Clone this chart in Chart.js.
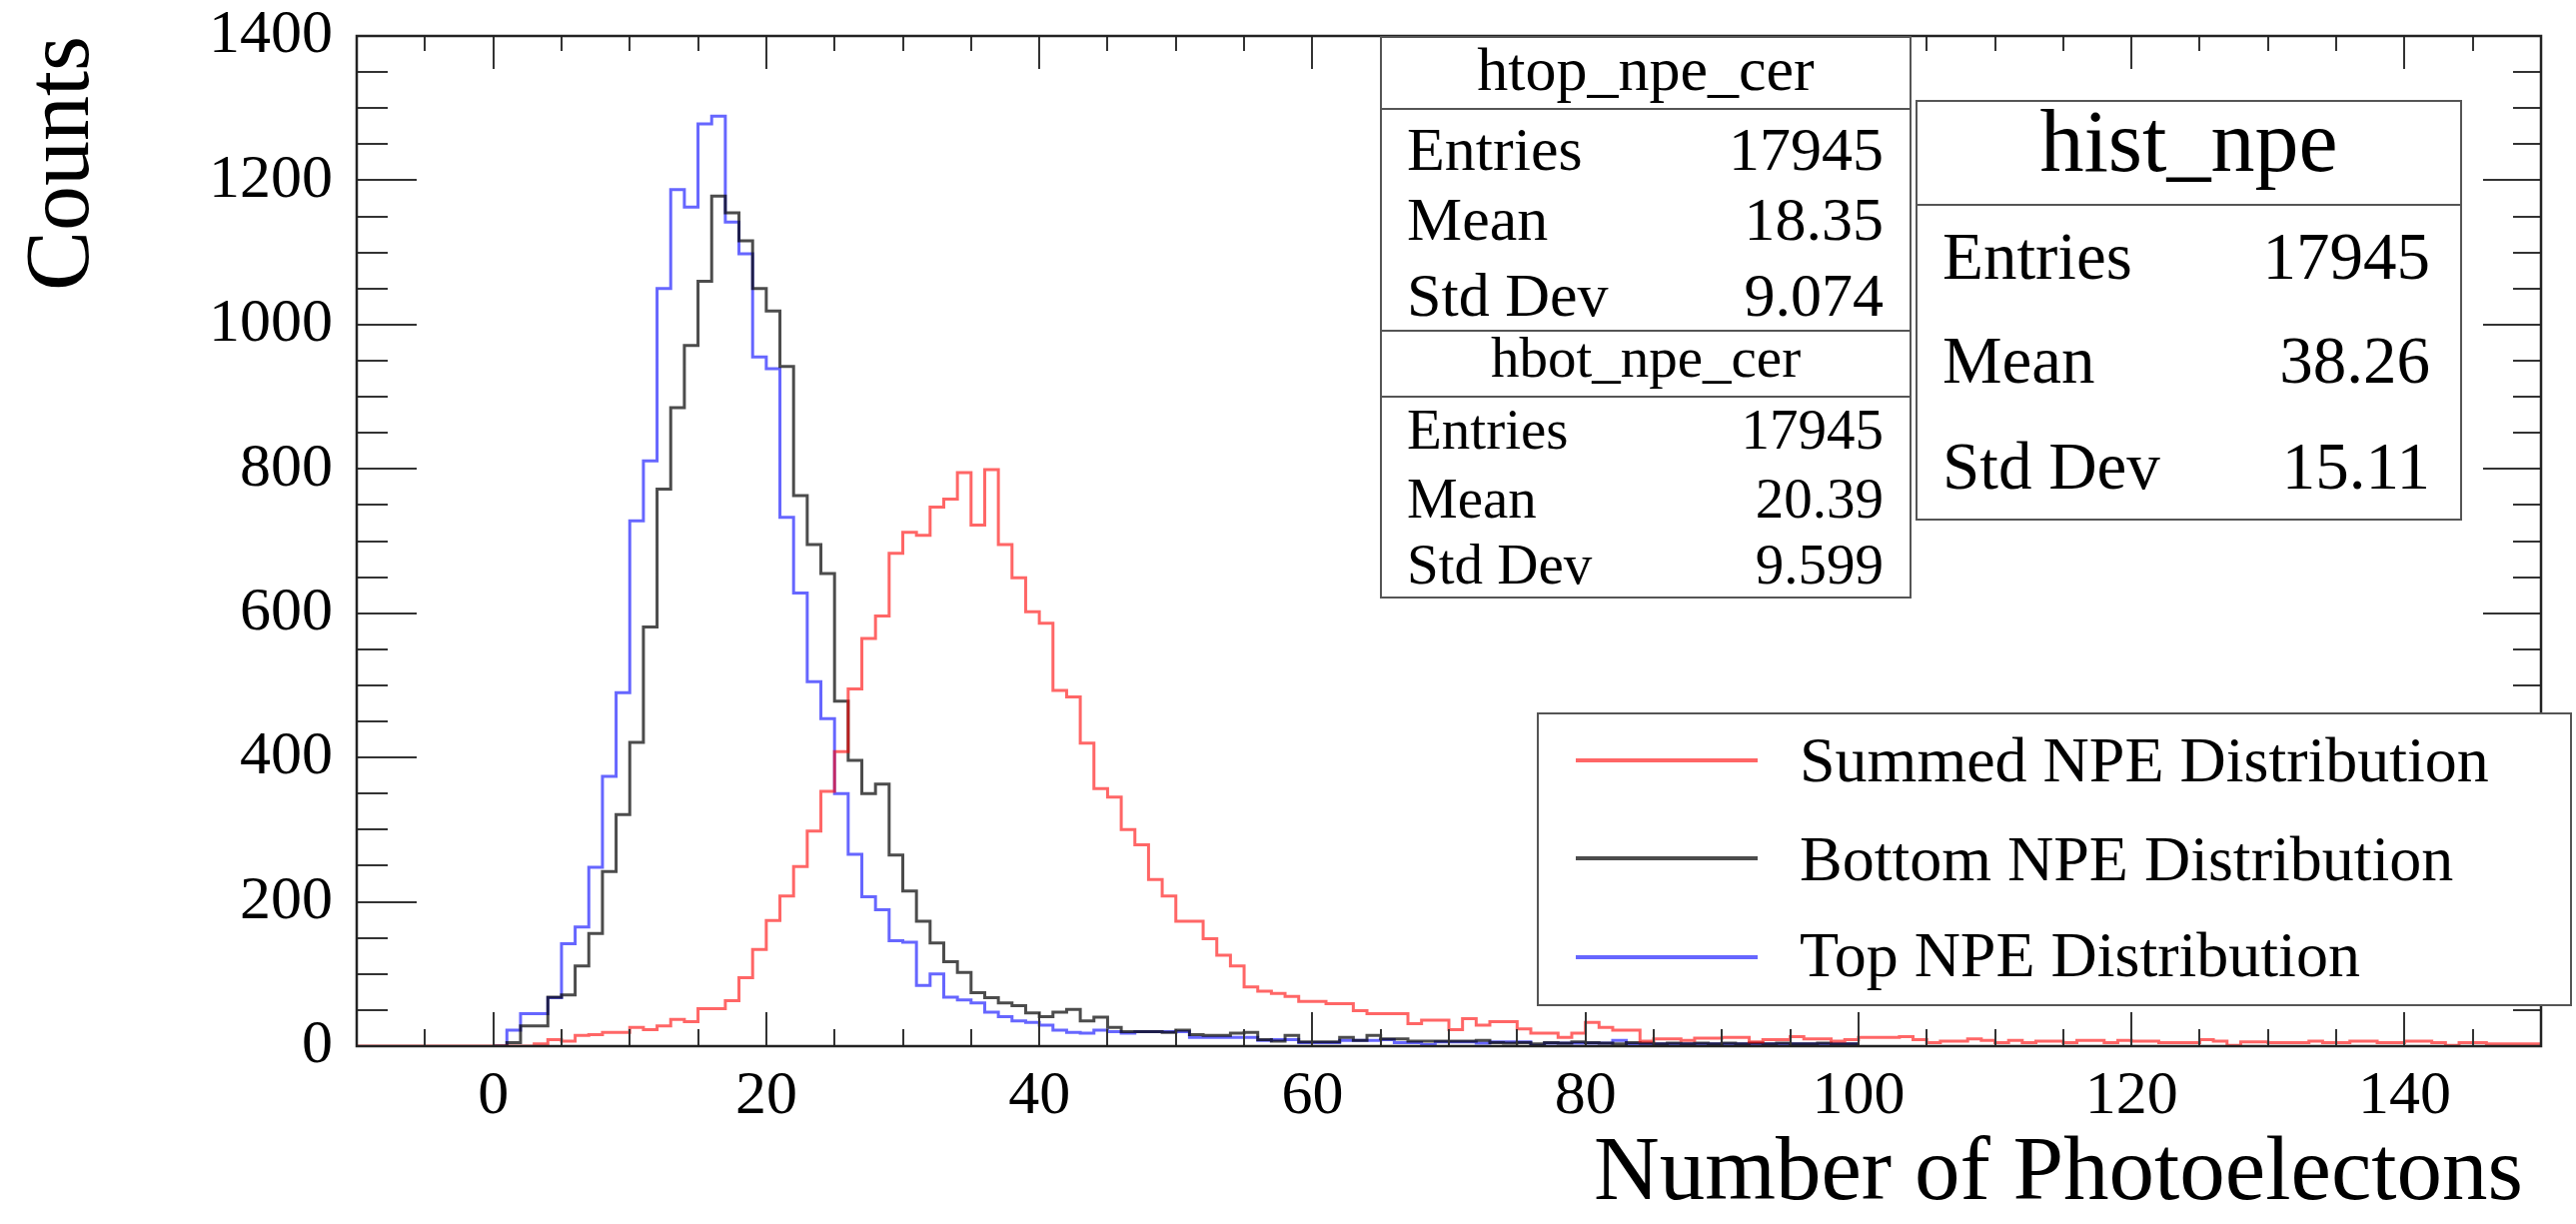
<!DOCTYPE html>
<html>
<head>
<meta charset="utf-8">
<script src="https://cdn.jsdelivr.net/npm/chart.js@4.4.1/dist/chart.umd.min.js"></script>
<style>
html,body{margin:0;padding:0;background:#fff;}
#wrap{position:relative;width:2578px;height:1225px;overflow:hidden;font-family:'Liberation Serif','Times New Roman',serif;color:#000;}
#c{position:absolute;left:0;top:0;}
.box{position:absolute;background:#fff;border:2px solid #555;box-sizing:border-box;}
.hl{position:absolute;height:2px;background:#555;}
.t{position:absolute;white-space:nowrap;line-height:1;}
.ls{position:absolute;height:4px;}
</style>
</head>
<body>
<div id="wrap"><canvas id="c" width="2578" height="1225"></canvas></div>
<script>
// ---------------- data ----------------
const xTickValues = [0, 20, 40, 60, 80, 100, 120, 140];
const yTickValues = [0, 200, 400, 600, 800, 1000, 1200, 1400];

// Summed NPE distribution: bins of width 1 starting at -10 (to 150)
const summedStart = -10;
const summedCounts = [
  0,0,0,0,0,0,0,0,0,0,
  0,0,0,3,9,7,15,16,19,19,
  26,23,28,37,34,52,52,63,95,134,
  174,208,249,298,353,408,495,565,596,683,
  712,708,747,758,795,722,799,695,649,602,
  586,493,484,420,357,345,300,279,231,208,
  173,173,149,126,111,82,76,73,69,62,
  62,59,59,49,45,45,45,31,36,36,
  23,38,29,34,34,24,18,18,12,18,
  33,26,22,22,7,10,10,8,11,11,
  12,12,6,9,9,13,10,10,7,9,
  12,12,12,13,9,5,7,7,10,8,
  5,8,5,7,7,5,8,8,5,8,
  7,7,5,5,5,9,7,1,6,6,
  5,5,5,7,5,5,7,7,5,5,
  7,7,5,1,5,5,3,3,3,3
];

// Bottom NPE distribution: bins of width 1 starting at 0 (to 100)
const bottomStart = 0;
const bottomCounts = [
  0,5,28,28,68,71,111,156,242,321,
  421,581,772,885,971,1060,1178,1155,1116,1050,
  1019,942,763,695,655,478,396,350,363,265,
  215,173,143,117,102,74,67,60,56,46,
  41,47,51,35,40,26,20,20,20,19,
  22,16,15,15,18,19,9,7,15,6,
  6,6,12,8,15,10,10,7,7,7,
  7,7,8,5,4,5,3,5,4,6,
  5,4,3,5,4,3,4,3,4,3,
  4,3,4,3,4,3,3,4,3,3
];

// Top NPE distribution: bins of width 1 starting at 0 (to 100)
const topStart = 0;
const topCounts = [
  0,22,45,45,67,142,165,248,374,490,
  728,811,1050,1187,1163,1278,1289,1142,1098,955,
  939,733,628,505,454,350,266,207,189,146,
  144,84,100,68,64,60,47,41,35,33,
  29,22,19,18,22,20,18,20,20,20,
  20,12,12,12,12,12,8,9,9,5,
  5,5,8,8,8,9,5,5,2,6,
  6,6,4,6,6,6,1,4,4,4,
  4,4,8,3,3,3,3,3,3,3,
  3,3,3,3,3,3,3,3,3,3
];

const seriesLabels = ['Summed NPE Distribution', 'Bottom NPE Distribution', 'Top NPE Distribution'];
const statsTop = {name: 'htop_npe_cer', entries: '17945', mean: '18.35', std: '9.074'};
const statsBot = {name: 'hbot_npe_cer', entries: '17945', mean: '20.39', std: '9.599'};
const statsSum = {name: 'hist_npe', entries: '17945', mean: '38.26', std: '15.11'};

// ---------------- build ----------------
function histPoints(start, counts) {
  const pts = counts.map((c, i) => ({x: start + i, y: c}));
  pts.push({x: start + counts.length, y: counts[counts.length - 1]});
  return pts;
}

const FONT = "'Liberation Serif', 'Times New Roman', serif";
const COL_RED = 'rgba(255,0,0,0.6)';
const COL_BLK = 'rgba(0,0,0,0.7)';
const COL_BLU = 'rgba(0,0,255,0.6)';

const framePlugin = {
  id: 'rootFrame',
  afterDatasetsDraw(chart) {
    const {ctx, chartArea: a, scales: {x, y}} = chart;
    ctx.save();
    ctx.strokeStyle = '#333';
    ctx.lineWidth = 2;
    ctx.beginPath();
    for (let v = -10; v <= 150; v += 5) {
      const px = Math.round(x.getPixelForValue(v));
      if (px <= a.left + 1 || px >= a.right - 1) continue;
      const major = (v % 20 === 0);
      ctx.moveTo(px, a.bottom); ctx.lineTo(px, a.bottom - (major ? 34 : 17));
      ctx.moveTo(px, a.top); ctx.lineTo(px, a.top + (major ? 33 : 15));
    }
    for (let v = 0; v <= 1400; v += 50) {
      const py = Math.round(y.getPixelForValue(v));
      if (py <= a.top + 1 || py >= a.bottom - 1) continue;
      const major = (v % 200 === 0);
      ctx.moveTo(a.left, py); ctx.lineTo(a.left + (major ? 60 : 31), py);
      ctx.moveTo(a.right, py); ctx.lineTo(a.right - (major ? 58 : 28), py);
    }
    ctx.stroke();
    ctx.strokeStyle = '#222';
    ctx.lineWidth = 2.5;
    ctx.strokeRect(a.left, a.top, a.right - a.left, a.bottom - a.top);
    ctx.restore();
  }
};

// shift the x-axis title slightly left so it ends where the reference title ends
const titleShift = {
  id: 'titleShift',
  beforeDraw(chart) {
    const s = chart.scales.x;
    if (s && !s.__shifted) {
      const orig = s.drawTitle.bind(s);
      s.drawTitle = function () {
        const c = this.ctx;
        c.save(); c.translate(-18, 0); orig(); c.restore();
      };
      s.__shifted = true;
    }
  }
};

function noPad(s) { s.paddingTop = 0; s.paddingBottom = 0; s.paddingLeft = 0; s.paddingRight = 0; }

const chart = new Chart(document.getElementById('c'), {
  type: 'line',
  data: {
    datasets: [
      {label: seriesLabels[0], data: histPoints(summedStart, summedCounts), borderColor: COL_RED, borderWidth: 3, stepped: true, pointRadius: 0, fill: false},
      {label: seriesLabels[1], data: histPoints(bottomStart, bottomCounts), borderColor: COL_BLK, borderWidth: 3, stepped: true, pointRadius: 0, fill: false},
      {label: seriesLabels[2], data: histPoints(topStart, topCounts), borderColor: COL_BLU, borderWidth: 3, stepped: true, pointRadius: 0, fill: false}
    ]
  },
  options: {
    responsive: false,
    animation: false,
    devicePixelRatio: 1,
    parsing: false,
    normalized: true,
    layout: {padding: {top: 36, right: 35, left: 0, bottom: 0}},
    plugins: {legend: {display: false}, tooltip: {enabled: false}},
    scales: {
      x: {
        type: 'linear', min: -10, max: 150,
        afterBuildTicks: s => { s.ticks = xTickValues.map(v => ({value: v})); },
        afterFit: s => { s.height = 178; noPad(s); },
        grid: {display: false, drawTicks: false},
        border: {display: false},
        ticks: {font: {family: FONT, size: 62}, color: '#000', padding: 14, maxRotation: 0, autoSkip: false,
                callback: v => String(v)},
        title: {display: true, text: 'Number of Photoelectons', align: 'end', color: '#000',
                font: {family: FONT, size: 91, lineHeight: 1}, padding: {top: 0, bottom: 3}}
      },
      y: {
        type: 'linear', min: 0, max: 1400,
        afterBuildTicks: s => { s.ticks = yTickValues.map(v => ({value: v})); },
        afterFit: s => { s.width = 357; noPad(s); },
        grid: {display: false, drawTicks: false},
        border: {display: false},
        ticks: {font: {family: FONT, size: 62}, color: '#000', padding: 24, autoSkip: false,
                callback: v => String(v)},
        title: {display: true, text: 'Counts', align: 'end', color: '#000',
                font: {family: FONT, size: 90, lineHeight: 1}, padding: {top: 19, bottom: 0}}
      }
    }
  },
  plugins: [framePlugin, titleShift]
});

// ---------------- overlays (stats boxes + legend) ----------------
const wrap = document.getElementById('wrap');
const W = 2578;
function box(l, t, r, b, headerY) {
  const d = document.createElement('div');
  d.className = 'box';
  Object.assign(d.style, {left: l + 'px', top: t + 'px', width: (r - l) + 'px', height: (b - t) + 'px'});
  wrap.appendChild(d);
  if (headerY !== undefined) {
    const h = document.createElement('div');
    h.className = 'hl';
    Object.assign(h.style, {left: l + 'px', top: (headerY - 1) + 'px', width: (r - l) + 'px'});
    wrap.appendChild(h);
  }
}
function text(str, x, baseline, size, align) {
  const d = document.createElement('div');
  d.className = 't';
  d.textContent = str;
  d.style.fontSize = size + 'px';
  d.style.top = (baseline - 0.8375 * size) + 'px';
  if (align === 'right') d.style.right = (W - x) + 'px';
  else if (align === 'center') { d.style.left = x + 'px'; d.style.transform = 'translateX(-50%)'; }
  else d.style.left = x + 'px';
  wrap.appendChild(d);
}
function stats(st, l, t, r, b, headerY, titleBase, titleSize, rowBases, rowSize, textL, valR) {
  box(l, t, r, b, headerY);
  text(st.name, (l + r) / 2, titleBase, titleSize, 'center');
  const names = ['Entries', 'Mean', 'Std Dev'];
  const vals = [st.entries, st.mean, st.std];
  for (let i = 0; i < 3; i++) {
    text(names[i], textL, rowBases[i], rowSize, 'left');
    text(vals[i], valR, rowBases[i], rowSize, 'right');
  }
}
stats(statsTop, 1381, 36, 1913, 332, 109, 90, 62, [170, 240, 316], 62, 1408, 1885);
stats(statsBot, 1381, 330, 1913, 599, 397, 377, 57, [449, 518, 584], 57, 1408, 1885);
stats(statsSum, 1917, 100, 2464, 521, 205, 172, 88, [279, 383, 489], 67, 1944, 2432);

// legend
box(1538, 713, 2574, 1007);
const legCols = [COL_RED, COL_BLK, COL_BLU];
const legLineY = [761, 859, 958];
const legTextY = [783, 882, 978];
for (let i = 0; i < 3; i++) {
  const ls = document.createElement('div');
  ls.className = 'ls';
  Object.assign(ls.style, {left: '1577px', top: (legLineY[i] - 2) + 'px', width: '182px', background: legCols[i]});
  wrap.appendChild(ls);
  text(seriesLabels[i], 1801, legTextY[i], 64, 'left');
}
</script>
</body>
</html>
